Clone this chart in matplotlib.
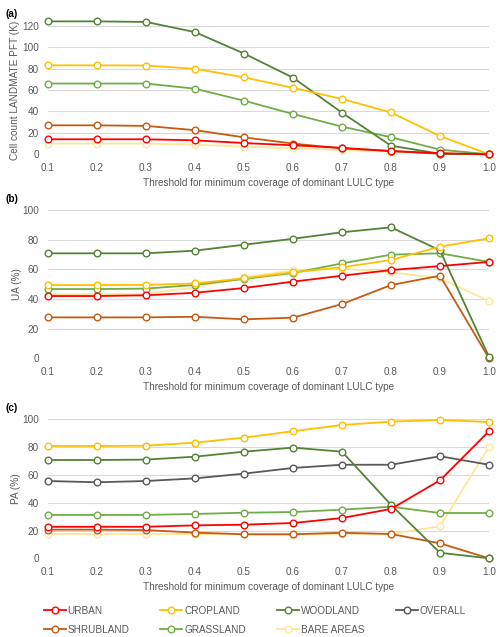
import matplotlib.pyplot as plt
from matplotlib.lines import Line2D

plt.rcParams['font.family'] = ['Liberation Sans', 'DejaVu Sans']

# Data
thresholds = [0.1, 0.2, 0.3, 0.4, 0.5, 0.6, 0.7, 0.8, 0.9, 1.0]

# (a) cell counts (K)
count_urban = [14, 14, 14, 13, 10.5, 8.4, 6, 3, 1, 0]
count_crop = [83, 83, 82.8, 79.8, 71.8, 62, 51.6, 39, 17, 0]
count_wood = [124, 124, 123.5, 114, 94, 71.5, 38.8, 8, 0.5, 0]
count_shrub = [27, 27, 26.5, 22.5, 15.8, 10, 5.5, 3, 0.5, 0]
count_grass = [66, 66, 66, 61.2, 50, 37.6, 25.8, 15.9, 4.3, 0]
count_bare = [10, 10, 10, 9, 7, 5.6, 4, 2.5, 1, 0]

# (b) user's accuracy (%)
ua_urban = [42, 42, 42.5, 44.2, 47.4, 51.7, 55.7, 59.5, 62.2, 65]
ua_crop = [49.4, 49.4, 49.5, 50.5, 54, 58, 61.4, 66.3, 75.3, 80.9]
ua_wood = [70.8, 70.8, 70.8, 72.6, 76.6, 80.6, 85, 88.3, 72.8, 1]
ua_shrub = [27.6, 27.6, 27.6, 28, 26.3, 27.4, 36.6, 49.4, 55.7, 0]
ua_grass = [46.7, 46.7, 47, 49.5, 53.5, 57.5, 64, 69.9, 70.8, 65]
ua_bare = [43.2, 43.2, 43.5, 48, 54.5, 59.3, 60.4, 58, 54, 38.6]

# (c) producer's accuracy (%)
pa_urban = [22.7, 22.7, 22.7, 23.7, 24.2, 25.4, 29, 35.5, 56.1, 91.4]
pa_crop = [80.8, 80.8, 81, 83.2, 86.8, 91.4, 95.9, 98.3, 99.5, 98]
pa_wood = [70.7, 70.7, 71, 73.1, 76.7, 79.6, 76.7, 38.5, 4, 0]
pa_overall = [55.6, 54.7, 55.6, 57.5, 60.9, 65, 67.3, 67.3, 73.4, 67.3]
pa_shrub = [20.6, 20.6, 20.3, 18.5, 17.3, 17.3, 18.4, 17.5, 10.8, 0]
pa_grass = [31.2, 31.2, 31.2, 31.9, 32.8, 33.3, 35, 37.1, 32.6, 32.6]
pa_bare = [17.5, 17.5, 17.5, 17.5, 17.3, 17, 17.7, 17.5, 23, 80.3]

colors = {
    "URBAN": "#FF0000",
    "CROPLAND": "#FFC000",
    "WOODLAND": "#548235",
    "OVERALL": "#595959",
    "SHRUBLAND": "#C55A11",
    "GRASSLAND": "#70AD47",
    "BARE AREAS": "#FFE699",
}
grey = "#595959"
fs = 7.2

fig = plt.figure(figsize=(5, 6.37), dpi=100)
left, right = 0.096, 0.978
ax_a = fig.add_axes([left, 0.7578, right - left, 0.9597 - 0.7578])
ax_b = fig.add_axes([left, 0.4375, right - left, 0.6703 - 0.4375])
ax_c = fig.add_axes([left, 0.1235, right - left, 0.3418 - 0.1235])

panels = [
    (ax_a, [("URBAN", count_urban), ("CROPLAND", count_crop), ("WOODLAND", count_wood),
            ("SHRUBLAND", count_shrub), ("GRASSLAND", count_grass), ("BARE AREAS", count_bare)],
     "Cell count LANDMATE PFT (K)", 120, 20, -0.064),
    (ax_b, [("URBAN", ua_urban), ("CROPLAND", ua_crop), ("WOODLAND", ua_wood),
            ("SHRUBLAND", ua_shrub), ("GRASSLAND", ua_grass), ("BARE AREAS", ua_bare)],
     "UA (%)", 100, 20, -0.059),
    (ax_c, [("URBAN", pa_urban), ("CROPLAND", pa_crop), ("WOODLAND", pa_wood), ("OVERALL", pa_overall),
            ("SHRUBLAND", pa_shrub), ("GRASSLAND", pa_grass), ("BARE AREAS", pa_bare)],
     "PA (%)", 100, 20, -0.061),
]

for ax, series, ylabel, ymax, step, ylab_x in panels:
    for name, vals in series[::-1]:
        ax.plot(thresholds, vals, color=colors[name], lw=1.3, marker="o", ms=4.8,
                mfc="white", mec=colors[name], mew=1.0, clip_on=False)
    ax.set_xlim(0.1, 1.0)
    ax.set_ylim(0, ymax)
    ax.set_xticks(thresholds)
    ax.set_xticklabels([f"{t:.1f}" for t in thresholds])
    ax.set_yticks(range(0, ymax + 1, step))
    ax.grid(axis="y", color="#D9D9D9", lw=0.8)
    ax.set_axisbelow(True)
    for s in ax.spines.values():
        s.set_visible(False)
    ax.tick_params(length=0, colors=grey, labelsize=fs)
    ax.tick_params(axis="x", pad=6)
    ax.tick_params(axis="y", pad=6.5)
    ax.set_xlabel("Threshold for minimum coverage of dominant LULC type", color=grey, fontsize=fs, labelpad=4)
    ax.set_ylabel(ylabel, color=grey, fontsize=fs)
    ax.yaxis.set_label_coords(ylab_x, 0.5)

fig.text(0.012, 0.978, "(a)", fontsize=fs, fontweight="bold", va="center")
fig.text(0.012, 0.688, "(b)", fontsize=fs, fontweight="bold", va="center")
fig.text(0.012, 0.360, "(c)", fontsize=fs, fontweight="bold", va="center")

order = ["URBAN", "SHRUBLAND", "CROPLAND", "GRASSLAND", "WOODLAND", "BARE AREAS", "OVERALL"]
handles = [Line2D([], [], color=colors[n], lw=1.3, marker="o", ms=4.8, mfc="white",
                  mec=colors[n], mew=1.0) for n in order]
leg = fig.legend(handles, order, ncol=4, loc="upper left", bbox_to_anchor=(0.079, 0.055),
                 frameon=False, fontsize=fs, handlelength=2.2, handletextpad=0.2,
                 columnspacing=3.1, labelspacing=0.9, borderaxespad=0)
for t in leg.get_texts():
    t.set_color(grey)

fig.savefig("out.png", dpi=100, facecolor="white")
